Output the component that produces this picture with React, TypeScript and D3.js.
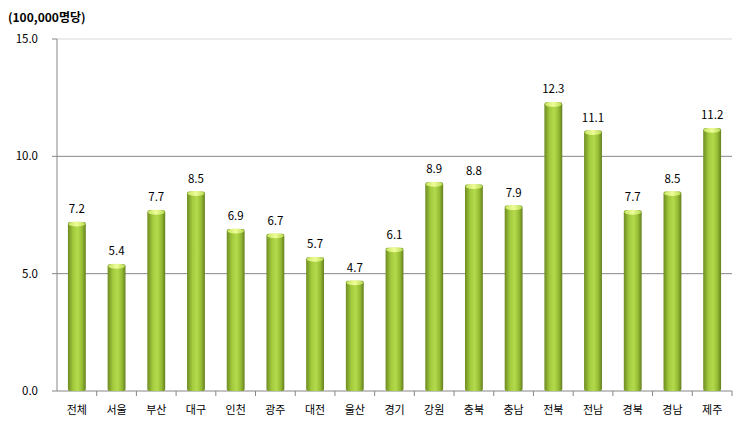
import React from "react";
import * as d3 from "d3";

const categories = ["전체","서울","부산","대구","인천","광주","대전","울산","경기","강원","충북","충남","전북","전남","경북","경남","제주"];
const values = [7.2,5.4,7.7,8.5,6.9,6.7,5.7,4.7,6.1,8.9,8.8,7.9,12.3,11.1,7.7,8.5,11.2];
const yTicks = [0,5,10,15];
const unitLabel = "(100,000명당)";

const W = 746, H = 432;
const left = 57, right = 732, top = 39, bottom = 391;

export default function App() {
  const x = d3.scaleBand<string>().domain(categories).range([left, right]).paddingInner(0.55).paddingOuter(0.275);
  const y = d3.scaleLinear().domain([0, 15]).range([bottom, top]);
  const bw = x.bandwidth();
  const band = d3.scaleBand<string>().domain(categories).range([left, right]);
  const font = "'Noto Sans CJK KR', 'Noto Sans', sans-serif";
  return (
    <svg width={W} height={H} style={{ position: "absolute", left: 0, top: 0 }} fontFamily={font}>
      <defs>
        <linearGradient id="barG" x1="0" x2="1" y1="0" y2="0">
          <stop offset="0" stopColor="#6e8c22" />
          <stop offset="0.3" stopColor="#a3cb3e" />
          <stop offset="0.55" stopColor="#b4da4c" />
          <stop offset="0.8" stopColor="#95bb34" />
          <stop offset="1" stopColor="#647f1e" />
        </linearGradient>
        <linearGradient id="capG" x1="0" x2="1" y1="0" y2="0">
          <stop offset="0" stopColor="#c6e660" />
          <stop offset="0.5" stopColor="#eefc9a" />
          <stop offset="1" stopColor="#b8dc50" />
        </linearGradient>
      </defs>
      <rect x={0} y={0} width={W} height={H} fill="#fff" />
      {yTicks.map(t => (
        <g key={t}>
          {t > 0 && <line x1={left} x2={right} y1={y(t)} y2={y(t)} stroke={t === 15 ? "#d9d9d9" : "#868686"} strokeWidth={1} />}
          <line x1={left - 5} x2={left} y1={y(t)} y2={y(t)} stroke="#868686" />
          <text x={38} y={y(t) + 4} textAnchor="end" fontSize={11.5} fill="#000">{t.toFixed(1)}</text>
        </g>
      ))}
      <line x1={left} x2={left} y1={top} y2={bottom} stroke="#868686" />
      <line x1={left} x2={right} y1={bottom} y2={bottom} stroke="#868686" />
      {categories.map((c, i) => (
        <line key={"t" + i} x1={(band(c) as number) + band.bandwidth()} x2={(band(c) as number) + band.bandwidth()} y1={bottom} y2={bottom + 5} stroke="#868686" />
      ))}
      {categories.map((c, i) => {
        const bx = x(c) as number;
        const by = y(values[i]);
        return (
          <g key={c}>
            <rect x={bx} y={by} width={bw} height={bottom - by} fill="url(#barG)" rx={2} />
            <ellipse cx={bx + bw / 2} cy={by + 2} rx={bw / 2 - 0.5} ry={2.5} fill="url(#capG)" />
            <text x={bx + bw / 2} y={by - 9} textAnchor="middle" fontSize={11.5} fill="#000">{values[i].toFixed(1)}</text>
            <text x={bx + bw / 2} y={414} textAnchor="middle" fontSize={11} fill="#000">{c}</text>
          </g>
        );
      })}
      <text x={8} y={22} fontSize={12} fontWeight="bold" fill="#000">{unitLabel}</text>
    </svg>
  );
}
